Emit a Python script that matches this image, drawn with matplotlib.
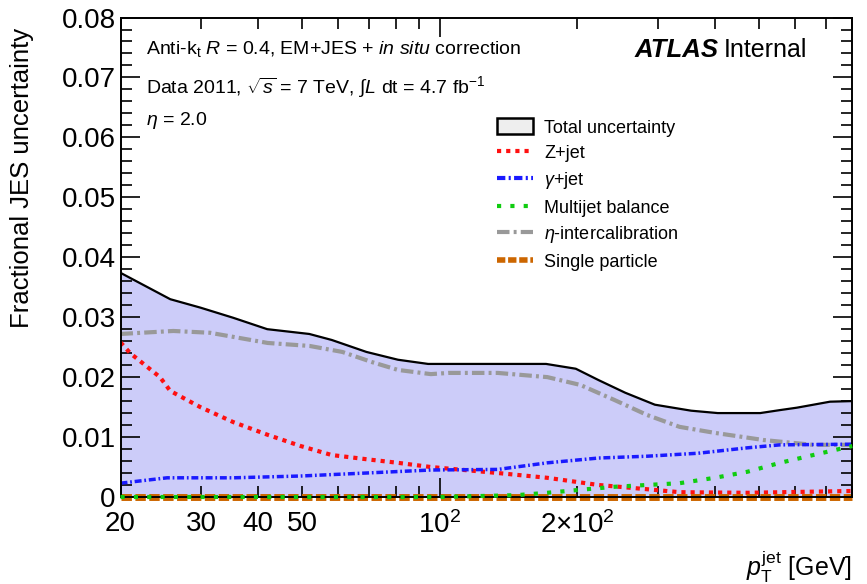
import numpy as np
import matplotlib
matplotlib.use('Agg')
import matplotlib.pyplot as plt
from matplotlib.ticker import FixedLocator, FixedFormatter
from matplotlib.patches import Patch
from matplotlib.lines import Line2D

plt.rcParams['font.family'] = ['Liberation Sans Narrow', 'Liberation Sans', 'DejaVu Sans']
plt.rcParams['mathtext.fontset'] = 'custom'
plt.rcParams['mathtext.rm'] = 'Liberation Sans'
plt.rcParams['mathtext.it'] = 'Liberation Sans:italic'
plt.rcParams['mathtext.bf'] = 'Liberation Sans:bold'

# values
pt_total = [20, 25.7, 29.9, 35.3, 41.9, 51.8, 58, 69.1, 81, 94.3, 170.9, 198.5, 222.7,
            254.6, 295.7, 355, 406, 503, 556, 605, 658, 715, 800]
total = [0.0374, 0.0330, 0.0316, 0.0299, 0.0280, 0.0272, 0.0262, 0.0242, 0.0229, 0.0222,
         0.0222, 0.0214, 0.0195, 0.0174, 0.0154, 0.0144, 0.0140, 0.0140, 0.0145, 0.0149,
         0.0154, 0.0159, 0.0160]

pt_zjet = [20, 21, 24.4, 25.7, 29.9, 35.3, 41.9, 49.6, 58, 69.1, 81, 95.6, 134, 172,
           222.7, 284, 335, 471, 800]
zjet = [0.0258, 0.0240, 0.0200, 0.0177, 0.0150, 0.0125, 0.0104, 0.0085, 0.0070, 0.0063,
        0.0057, 0.0050, 0.0040, 0.0032, 0.0020, 0.0013, 0.0008, 0.0007, 0.0010]

pt_gjet = [20, 25.3, 35.3, 49.6, 69.1, 95.6, 134, 172, 222.7, 284, 368, 471, 556, 800]
gjet = [0.0023, 0.0032, 0.0032, 0.0035, 0.0040, 0.0045, 0.0046, 0.0057, 0.0065, 0.0068,
        0.0073, 0.0082, 0.0087, 0.0088]

pt_mj = [20, 100, 147, 172, 203, 241, 284, 335, 400, 471, 556, 657, 800]
multijet = [0, 0, 0.0003, 0.0007, 0.0012, 0.0017, 0.0020, 0.0023, 0.0032, 0.0042,
            0.0057, 0.0070, 0.0085]

pt_eta = [20, 26.1, 31.4, 42, 51.9, 61.2, 71.1, 81, 95.6, 104.4, 134, 172, 203, 241, 284,
          335, 400, 512, 657, 800]
eta_ic = [0.0272, 0.0277, 0.0274, 0.0257, 0.0252, 0.0242, 0.0225, 0.0212, 0.0205, 0.0207,
          0.0207, 0.0200, 0.0187, 0.0162, 0.0137, 0.0117, 0.0107, 0.0095, 0.0087, 0.0087]

pt_sp = [20, 800]
single = [0, 0]

fig = plt.figure(figsize=(8.67, 5.84), dpi=100)
ax = fig.add_axes([0.139, 0.149, 0.844, 0.821])

ax.fill_between(pt_total, 0, total, color='#ccccf9', lw=0)
ax.plot(pt_total, total, color='black', lw=1.6)
ax.plot(pt_eta, eta_ic, color='#999999', lw=3, ls=(0, (3, 1, 0.7, 1)))
ax.plot(pt_zjet, zjet, color='#ff1010', lw=3, ls=(0, (1, 1.2)))
ax.plot(pt_gjet, gjet, color='#1a1aff', lw=2.5, ls=(0, (2, 0.8, 0.5, 0.8)))
ax.plot(pt_mj, multijet, color='#10cc10', lw=3, ls=(0, (1, 2.2)), clip_on=False, zorder=3)
ax.plot(pt_sp, single, color='#cc6600', lw=5, ls=(0, (1.5, 0.5)), clip_on=False, zorder=2.5)

ax.set_xscale('log')
ax.set_xlim(20, 800)
ax.set_ylim(0, 0.08)

ax.xaxis.set_major_locator(FixedLocator([100]))
ax.xaxis.set_major_formatter(FixedFormatter(['$10^2$']))
minors = [20, 30, 40, 50, 60, 70, 80, 90, 200, 300, 400, 500, 600, 700, 800]
ax.xaxis.set_minor_locator(FixedLocator(minors))
ax.xaxis.set_minor_formatter(FixedFormatter(['20', '30', '40', '50', '', '', '', '',
                                             r'2$\times$$10^2$', '', '', '', '', '', '']))
ax.set_yticks(np.arange(0, 0.081, 0.01))
ax.set_yticklabels(['0', '0.01', '0.02', '0.03', '0.04', '0.05', '0.06', '0.07', '0.08'])
ax.yaxis.set_minor_locator(FixedLocator(np.arange(0, 0.0801, 0.002)))

ax.tick_params(which='both', direction='in', top=True, right=True, labelsize=20, width=1.2)
ax.tick_params(which='major', length=14)
ax.tick_params(which='minor', length=8)
ax.tick_params(axis='x', which='both', pad=10)
for s in ax.spines.values():
    s.set_linewidth(1.4)

ax.set_ylabel('Fractional JES uncertainty', fontsize=18.5, family=['Liberation Sans', 'DejaVu Sans'])
ax.yaxis.set_label_coords(-0.118, 0.665)
ax.text(1.0, -0.145, r'$p_{\mathrm{T}}^{\mathrm{jet}}$ [GeV]', transform=ax.transAxes,
        ha='right', va='center', fontsize=18)

ax.text(0.035, 0.935, r'Anti-k$_{\mathrm{t}}$ $R$ = 0.4, EM+JES + $in\ situ$ correction',
        transform=ax.transAxes, fontsize=14, va='center')
ax.text(0.035, 0.855, r'Data 2011, $\sqrt{s}$ = 7 TeV, $\int L$ dt = 4.7 fb$^{-1}$',
        transform=ax.transAxes, fontsize=14, va='center')
ax.text(0.035, 0.785, r'$\eta$ = 2.0', transform=ax.transAxes, fontsize=14, va='center')
ax.text(0.702, 0.932, 'ATLAS', transform=ax.transAxes, fontsize=18.5, fontweight='bold',
        style='italic', va='center', family=['Liberation Sans', 'DejaVu Sans'])
ax.text(0.824, 0.932, 'Internal', transform=ax.transAxes, fontsize=18, ha='left', va='center')

handles = [Patch(facecolor='#eeeeee', edgecolor='black', lw=1.8),
           Line2D([], [], color='#ff1010', lw=3, ls=(0, (1, 1.2))),
           Line2D([], [], color='#1a1aff', lw=3, ls=(0, (2, 0.8, 0.5, 0.8))),
           Line2D([], [], color='#10cc10', lw=3, ls=(0, (1, 2.2))),
           Line2D([], [], color='#999999', lw=3, ls=(0, (3, 1, 0.7, 1))),
           Line2D([], [], color='#cc6600', lw=4, ls=(0, (1.5, 0.5)))]
labels = ['Total uncertainty', 'Z+jet', r'$\gamma$+jet', 'Multijet balance',
          r'$\eta$-intercalibration', 'Single particle']
ax.legend(handles, labels, loc='upper left', bbox_to_anchor=(0.505, 0.805), frameon=False,
          fontsize=13, handlelength=2.0, handleheight=1.0, labelspacing=0.42,
          handletextpad=0.6, borderaxespad=0)

fig.savefig('out.png', dpi=100)
